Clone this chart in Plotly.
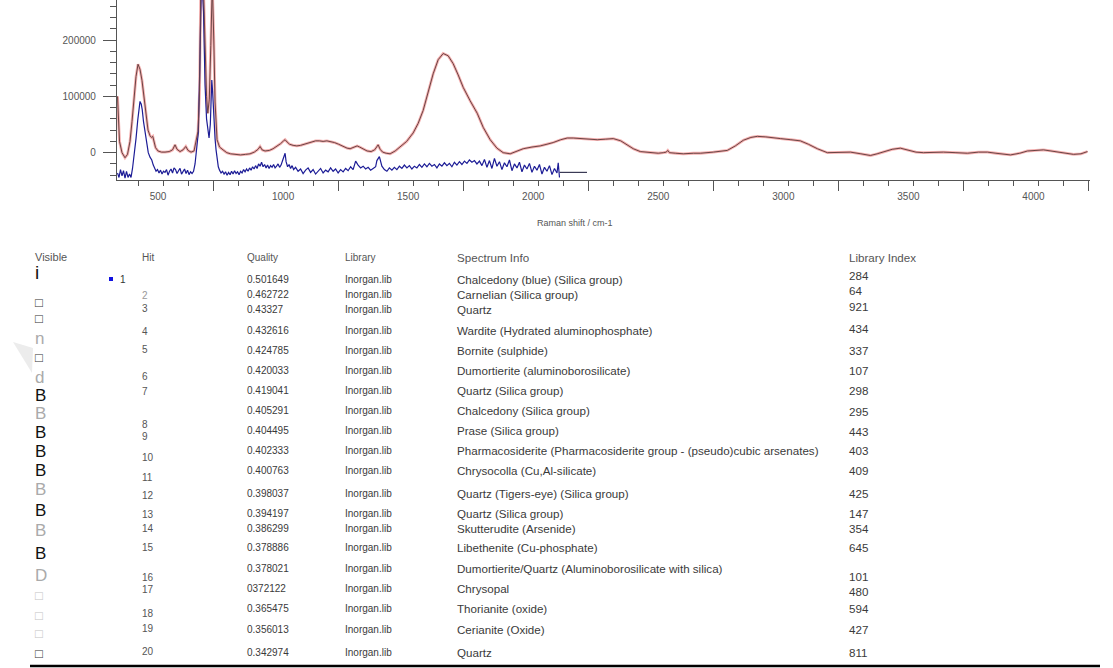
import plotly.graph_objects as go

W, H = 1113, 668

# ---------------- spectrum data ----------------
red_x = [338, 341, 346, 356, 368, 378, 388, 396, 404, 412, 420, 428, 436, 444, 452, 460, 468, 474, 479, 484,
         490, 500, 514, 528, 545, 558, 568, 576, 588, 600, 611, 620, 632, 644, 652, 660, 666, 672, 680, 688,
         694, 699, 705, 711, 717, 723, 728, 736, 746, 760, 775, 790, 810, 830, 850, 868, 885, 900, 908, 916,
         928, 945, 960, 975, 990, 1002, 1008, 1016, 1026, 1040, 1055, 1070, 1085, 1100, 1115, 1130, 1145, 1160,
         1175, 1190, 1205, 1222, 1240, 1256, 1268, 1282, 1296, 1306, 1318, 1336, 1352, 1366, 1374, 1380, 1388,
         1398, 1412, 1428, 1448, 1468, 1494, 1520, 1540, 1560, 1580, 1600, 1620, 1640, 1660, 1680, 1700, 1720,
         1748, 1776, 1800, 1828, 1855, 1880, 1908, 1935, 1960, 1995, 2028, 2055, 2080, 2110, 2136, 2160, 2188,
         2220, 2256, 2290, 2320, 2350, 2376, 2400, 2428, 2470, 2500, 2520, 2532, 2538, 2545, 2570, 2600, 2640,
         2668, 2720, 2776, 2808, 2840, 2870, 2896, 2930, 2960, 2988, 3030, 3068, 3100, 3136, 3176, 3220, 3268,
         3310, 3348, 3375, 3400, 3435, 3468, 3500, 3530, 3560, 3600, 3640, 3690, 3736, 3780, 3816, 3850, 3880,
         3908, 3945, 3976, 4010, 4040, 4070, 4096, 4130, 4160, 4190, 4216]
red_y = [100000, 60000, 20000, 0, -9000, -3000, 20000, 55000, 95000, 135000, 157000, 148000, 128000, 100000,
         62000, 40000, 30000, 27000, 29000, 18000, 9000, 3000, 1000, 1000, 2000, 5000, 14000, 6000, 2000, 5000,
         11000, 4000, 1000, 3000, 18000, 38000, 110000, 330000, 320000, 190000, 100000, 70000, 95000, 190000,
         300000, 200000, 90000, 23000, 10000, 5000, 0, -2000, -3000, -4000, -3000, -2000, 1000, 6000, 11000,
         5000, 3000, 4000, 7000, 11000, 16000, 21000, 23000, 19000, 15000, 13000, 12000, 13000, 15000, 17000,
         19000, 21000, 21000, 20000, 21000, 20000, 18000, 15000, 11000, 8000, 7000, 10000, 12000, 10000, 7000,
         3000, 2000, 5000, 10000, 14000, 6000, 1000, -1000, -2000, 3000, 10000, 20000, 35000, 52000, 75000,
         108000, 140000, 165000, 176000, 172000, 158000, 138000, 116000, 92000, 70000, 45000, 23000, 8000, 0,
         -2000, 3000, 7000, 10000, 12000, 15000, 18000, 23000, 26000, 26000, 25000, 24000, 23000, 24000, 25000,
         21000, 14000, 7000, 2000, 0, -1000, 0, 1000, 4000, 0, -1000, -2000, -1000, -1000, 1000, 4000, 12000,
         22000, 27000, 29000, 28000, 26000, 25000, 23000, 21000, 15000, 7000, 0, 1000, 1000, -2000, -5000,
         -2000, 1000, 6000, 8000, 4000, 1000, 0, 1000, 1000, 0, -1000, 1000, 1000, -1000, -3000, -4000, -1000,
         3000, 4000, 5000, 3000, 1000, -2000, -3000, -2000, 2000]

blue_x = [338, 344, 350, 356, 362, 368, 374, 380, 386, 392, 398, 404, 412, 419, 424, 428, 433, 437, 442, 448,
          454, 461, 468, 475, 481, 486, 492, 498, 504, 510, 516, 522, 528, 534, 540, 546, 552, 558, 564, 570,
          576, 582, 588, 594, 600, 606, 612, 618, 624, 630, 636, 642, 648, 655, 661, 667, 674, 682, 688, 694,
          700, 704, 709, 712, 715, 718, 721, 725, 728, 732, 735, 741, 746, 752, 758, 764, 770, 776, 782, 788,
          794, 800, 806, 812, 818, 824, 830, 836, 842, 848, 854, 860, 866, 872, 878, 884, 890, 896, 902, 908,
          914, 920, 926, 932, 938, 944, 950, 956, 962, 968, 974, 980, 986, 992, 998, 1004, 1008, 1012, 1018,
          1024, 1030, 1036, 1042, 1050, 1060, 1070, 1080, 1090, 1100, 1110, 1120, 1130, 1140, 1150, 1160, 1170,
          1180, 1190, 1200, 1210, 1220, 1230, 1240, 1250, 1260, 1270, 1280, 1290, 1300, 1310, 1320, 1330, 1340,
          1350, 1360, 1370, 1375, 1385, 1395, 1405, 1415, 1425, 1435, 1445, 1455, 1465, 1475, 1485, 1495, 1505,
          1515, 1525, 1535, 1545, 1555, 1565, 1575, 1585, 1595, 1605, 1615, 1625, 1635, 1645, 1655, 1665, 1675,
          1685, 1695, 1705, 1715, 1725, 1735, 1745, 1755, 1765, 1775, 1785, 1795, 1805, 1815, 1825, 1835, 1845,
          1855, 1865, 1875, 1885, 1895, 1905, 1915, 1925, 1935, 1945, 1955, 1965, 1975, 1985, 1995, 2005, 2015,
          2025, 2035, 2045, 2055, 2065, 2075, 2085, 2095, 2100, 2105]
blue_y = [-36000, -44000, -30000, -41000, -32000, -45000, -33000, -44000, -38000, -44000, -28000, -7000, 25000,
          58000, 80000, 91000, 86000, 76000, 55000, 35000, 15000, 0, -8000, -13000, -22000, -26000, -33000,
          -30000, -36000, -31000, -38000, -33000, -35000, -30000, -40000, -33000, -29000, -36000, -27000,
          -30000, -37000, -32000, -28000, -38000, -33000, -29000, -37000, -31000, -39000, -34000, -37000,
          -33000, -20000, 5000, 35000, 150000, 320000, 250000, 120000, 60000, 35000, 26000, 50000, 85000,
          129000, 110000, 79000, 45000, 25000, 5000, -10000, -25000, -31000, -36000, -33000, -38000, -34000,
          -40000, -35000, -39000, -33000, -38000, -32000, -37000, -34000, -39000, -33000, -36000, -30000,
          -34000, -29000, -33000, -27000, -31000, -25000, -29000, -23000, -28000, -20000, -24000, -17000,
          -25000, -21000, -27000, -22000, -28000, -23000, -26000, -21000, -27000, -24000, -20000, -26000,
          -22000, -14000, -6000, -1000, -16000, -25000, -21000, -28000, -23000, -30000, -26000, -33000, -29000,
          -37000, -31000, -27000, -35000, -30000, -38000, -32000, -28000, -36000, -31000, -34000, -27000,
          -33000, -29000, -36000, -30000, -34000, -28000, -32000, -25000, -30000, -15000, -22000, -27000,
          -24000, -29000, -26000, -31000, -28000, -25000, -14000, -7000, -24000, -30000, -33000, -27000,
          -31000, -26000, -30000, -24000, -28000, -22000, -27000, -23000, -29000, -24000, -27000, -21000,
          -26000, -20000, -25000, -19000, -24000, -21000, -27000, -20000, -24000, -18000, -23000, -19000,
          -25000, -17000, -22000, -16000, -21000, -15000, -19000, -13000, -17000, -14000, -20000, -15000,
          -23000, -12000, -26000, -14000, -28000, -10000, -24000, -16000, -30000, -18000, -25000, -13000,
          -32000, -20000, -27000, -17000, -34000, -22000, -29000, -19000, -35000, -24000, -31000, -21000,
          -38000, -26000, -33000, -23000, -39000, -28000, -36000, -18000, -44000, -35000]

tail_x = [2105, 2215]
tail_y = [-35000, -35000]

x_tick_vals = [500, 1000, 1500, 2000, 2500, 3000, 3500, 4000]
x_long_ticks = [720, 1220, 1720, 2220, 2720, 3220, 3720, 4220]
y_tick_vals = [0, 100000, 200000]
y_tick_text = ["0", "100000", "200000"]
x_title = "Raman shift / cm-1"

# ---------------- table data ----------------
headers = ["Visible", "Hit", "Quality", "Library", "Spectrum Info", "Library Index"]
visible_marks = ["i", "\u25a1", "\u25a1", "n", "\u25a1", "d", "B", "B", "B", "B",
                 "B", "B", "B", "B", "B", "D", "\u25a1", "\u25a1", "\u25a1", "\u25a1"]
hits = ["1", "2", "3", "4", "5", "6", "7", "8", "9", "10",
        "11", "12", "13", "14", "15", "16", "17", "18", "19", "20"]
quality = ["0.501649", "0.462722", "0.43327", "0.432616", "0.424785", "0.420033", "0.419041", "0.405291",
           "0.404495", "0.402333", "0.400763", "0.398037", "0.394197", "0.386299", "0.378886", "0.378021",
           "0372122", "0.365475", "0.356013", "0.342974"]
library = ["Inorgan.lib"] * 20
spectrum_info = ["Chalcedony (blue) (Silica group)", "Carnelian (Silica group)", "Quartz",
                 "Wardite (Hydrated aluminophosphate)", "Bornite (sulphide)", "Dumortierite (aluminoborosilicate)",
                 "Quartz (Silica group)", "Chalcedony (Silica group)", "Prase (Silica group)",
                 "Pharmacosiderite (Pharmacosiderite group - (pseudo)cubic arsenates)",
                 "Chrysocolla (Cu,Al-silicate)", "Quartz (Tigers-eye) (Silica group)", "Quartz (Silica group)",
                 "Skutterudite (Arsenide)", "Libethenite (Cu-phosphate)",
                 "Dumortierite/Quartz (Aluminoborosilicate with silica)", "Chrysopal", "Thorianite (oxide)",
                 "Cerianite (Oxide)", "Quartz"]
library_index = ["284", "64", "921", "434", "337", "107", "298", "295", "443", "403",
                 "409", "425", "147", "354", "645", "101", "480", "594", "427", "811"]

# ---------------- layout (pixel positions / styles) ----------------
PLOT_L, PLOT_R, PLOT_B = 117, 1090, 180
row_y = [279, 294, 310, 330, 350, 370, 390, 410, 430, 450, 470, 493, 513, 528, 547, 568, 588, 608, 629, 652]
hit_y = [279, 296, 309, 331, 349, 376, 391, 424, 436, 457, 477, 495, 514, 528, 547, 577, 589, 613, 628, 651]
vis_y = [272, 302, 318, 338, 357, 377, 395, 414, 432, 451, 470, 490, 510, 530, 553, 575, 595, 615, 633, 653]
idx_y = [275, 290, 306, 328, 350, 370, 390, 411, 431, 450, 470, 493, 513, 528, 547, 576, 591, 608, 629, 652]
col_x = {"Visible": 33, "Hit": 140, "Quality": 245, "Library": 343, "Spectrum Info": 455, "Library Index": 847}
col_size = {"Visible": 11, "Hit": 10, "Quality": 10, "Library": 10, "Spectrum Info": 11.6, "Library Index": 11.6}
vis_style = [("#111", 19), ("#333", 13), ("#333", 13), ("#aaa", 17), ("#333", 13), ("#aaa", 17),
             ("#111", 17), ("#aaa", 17), ("#111", 17), ("#111", 17), ("#111", 17), ("#aaa", 17),
             ("#111", 17), ("#aaa", 17), ("#111", 17), ("#aaa", 17), ("#c4c4c4", 13), ("#c4c4c4", 13),
             ("#c4c4c4", 13), ("#333", 13)]
FONT = "Liberation Sans, Arial, sans-serif"
TXT = "#3a3a3a"


def px(x):
    return x / W


def py(y):
    return 1 - y / H


fig = go.Figure()
fig.add_trace(go.Scatter(x=red_x, y=red_y, mode="lines", line=dict(color="rgba(230,80,80,0.45)", width=2.8),
                         hoverinfo="skip", showlegend=False))
fig.add_trace(go.Scatter(x=blue_x, y=blue_y, mode="lines", line=dict(color="#1c1c96", width=1.2),
                         showlegend=False))
fig.add_trace(go.Scatter(x=tail_x, y=tail_y, mode="lines", line=dict(color="#3a3a55", width=1.2),
                         showlegend=False))
fig.add_trace(go.Scatter(x=red_x, y=red_y, mode="lines", line=dict(color="#6a4444", width=1.0),
                         xaxis="x2", showlegend=False))

annotations = []
annotations.append(dict(x=px(575), y=py(223), xref="paper", yref="paper", text=x_title, showarrow=False,
                        font=dict(family=FONT, size=9, color="#555"), xanchor="center", yanchor="middle"))
for h in headers:
    annotations.append(dict(x=px(col_x[h]), y=py(257), xref="paper", yref="paper", text=h, showarrow=False,
                            font=dict(family=FONT, size=col_size[h], color="#555"),
                            xanchor="left", yanchor="middle"))
for i in range(20):
    c, s = vis_style[i]
    annotations.append(dict(x=px(col_x["Visible"]), y=py(vis_y[i]), xref="paper", yref="paper",
                            text=visible_marks[i], showarrow=False,
                            font=dict(family="Liberation Sans, DejaVu Sans", size=s, color=c),
                            xanchor="left", yanchor="middle"))
    hx = 118 if i == 0 else col_x["Hit"]
    hc = "#333" if i == 0 else ("#999" if i == 1 else "#555")
    annotations.append(dict(x=px(hx), y=py(hit_y[i]), xref="paper", yref="paper", text=hits[i],
                            showarrow=False, font=dict(family=FONT, size=10, color=hc),
                            xanchor="left", yanchor="middle"))
    for col, vals in (("Quality", quality), ("Library", library), ("Spectrum Info", spectrum_info)):
        annotations.append(dict(x=px(col_x[col]), y=py(row_y[i]), xref="paper", yref="paper", text=vals[i],
                                showarrow=False, font=dict(family=FONT, size=col_size[col], color=TXT),
                                xanchor="left", yanchor="middle"))
    annotations.append(dict(x=px(col_x["Library Index"]), y=py(idx_y[i]), xref="paper", yref="paper",
                            text=library_index[i], showarrow=False,
                            font=dict(family=FONT, size=col_size["Library Index"], color=TXT),
                            xanchor="left", yanchor="middle"))

shapes = [
    dict(type="rect", xref="paper", yref="paper", x0=px(109), x1=px(113), y0=py(281), y1=py(277),
         fillcolor="#1010e0", line=dict(width=0)),
    dict(type="line", xref="paper", yref="paper", x0=px(30), x1=px(1100), y0=py(666), y1=py(666),
         line=dict(color="#000", width=2.5)),
    dict(type="path", xref="paper", yref="paper",
         path=f"M {px(13)} {py(342)} L {px(33)} {py(348)} L {px(32)} {py(373)} Z",
         fillcolor="#ececec", line=dict(width=0)),
]

axis_col = "#555"
fig.update_layout(
    width=W, height=H, margin=dict(l=0, r=0, t=0, b=0),
    paper_bgcolor="white", plot_bgcolor="white", showlegend=False,
    xaxis=dict(domain=[px(PLOT_L), px(PLOT_R)], range=[336, 4226], showline=True, linecolor=axis_col,
               linewidth=1.2, tickvals=x_tick_vals, ticks="outside", ticklen=7, tickcolor="rgba(0,0,0,0)",
               tickfont=dict(family=FONT, size=10, color="#555"), showgrid=False, zeroline=False, anchor="y",
               minor=dict(tick0=20, dtick=100, ticks="outside", ticklen=5, tickcolor=axis_col, showgrid=False)),
    xaxis2=dict(overlaying="x", anchor="y", range=[336, 4226], tickvals=x_long_ticks, ticks="outside",
                ticklen=10, tickcolor=axis_col, showticklabels=False, showline=False, showgrid=False,
                zeroline=False),
    yaxis=dict(domain=[py(PLOT_B), 1], range=[-48500, 271000], showline=True, linecolor=axis_col,
               linewidth=1.2, tickvals=y_tick_vals, ticktext=y_tick_text, ticks="outside", ticklen=13,
               tickcolor=axis_col, tickfont=dict(family=FONT, size=10, color="#555"), showgrid=False,
               zeroline=False, ticklabelstandoff=5,
               minor=dict(tick0=0, dtick=20000, ticks="outside", ticklen=6, tickcolor=axis_col, showgrid=False)),
    annotations=annotations, shapes=shapes,
)

fig.write_html("out.html", config={"displayModeBar": False}, post_script="document.body.style.margin='0';")
